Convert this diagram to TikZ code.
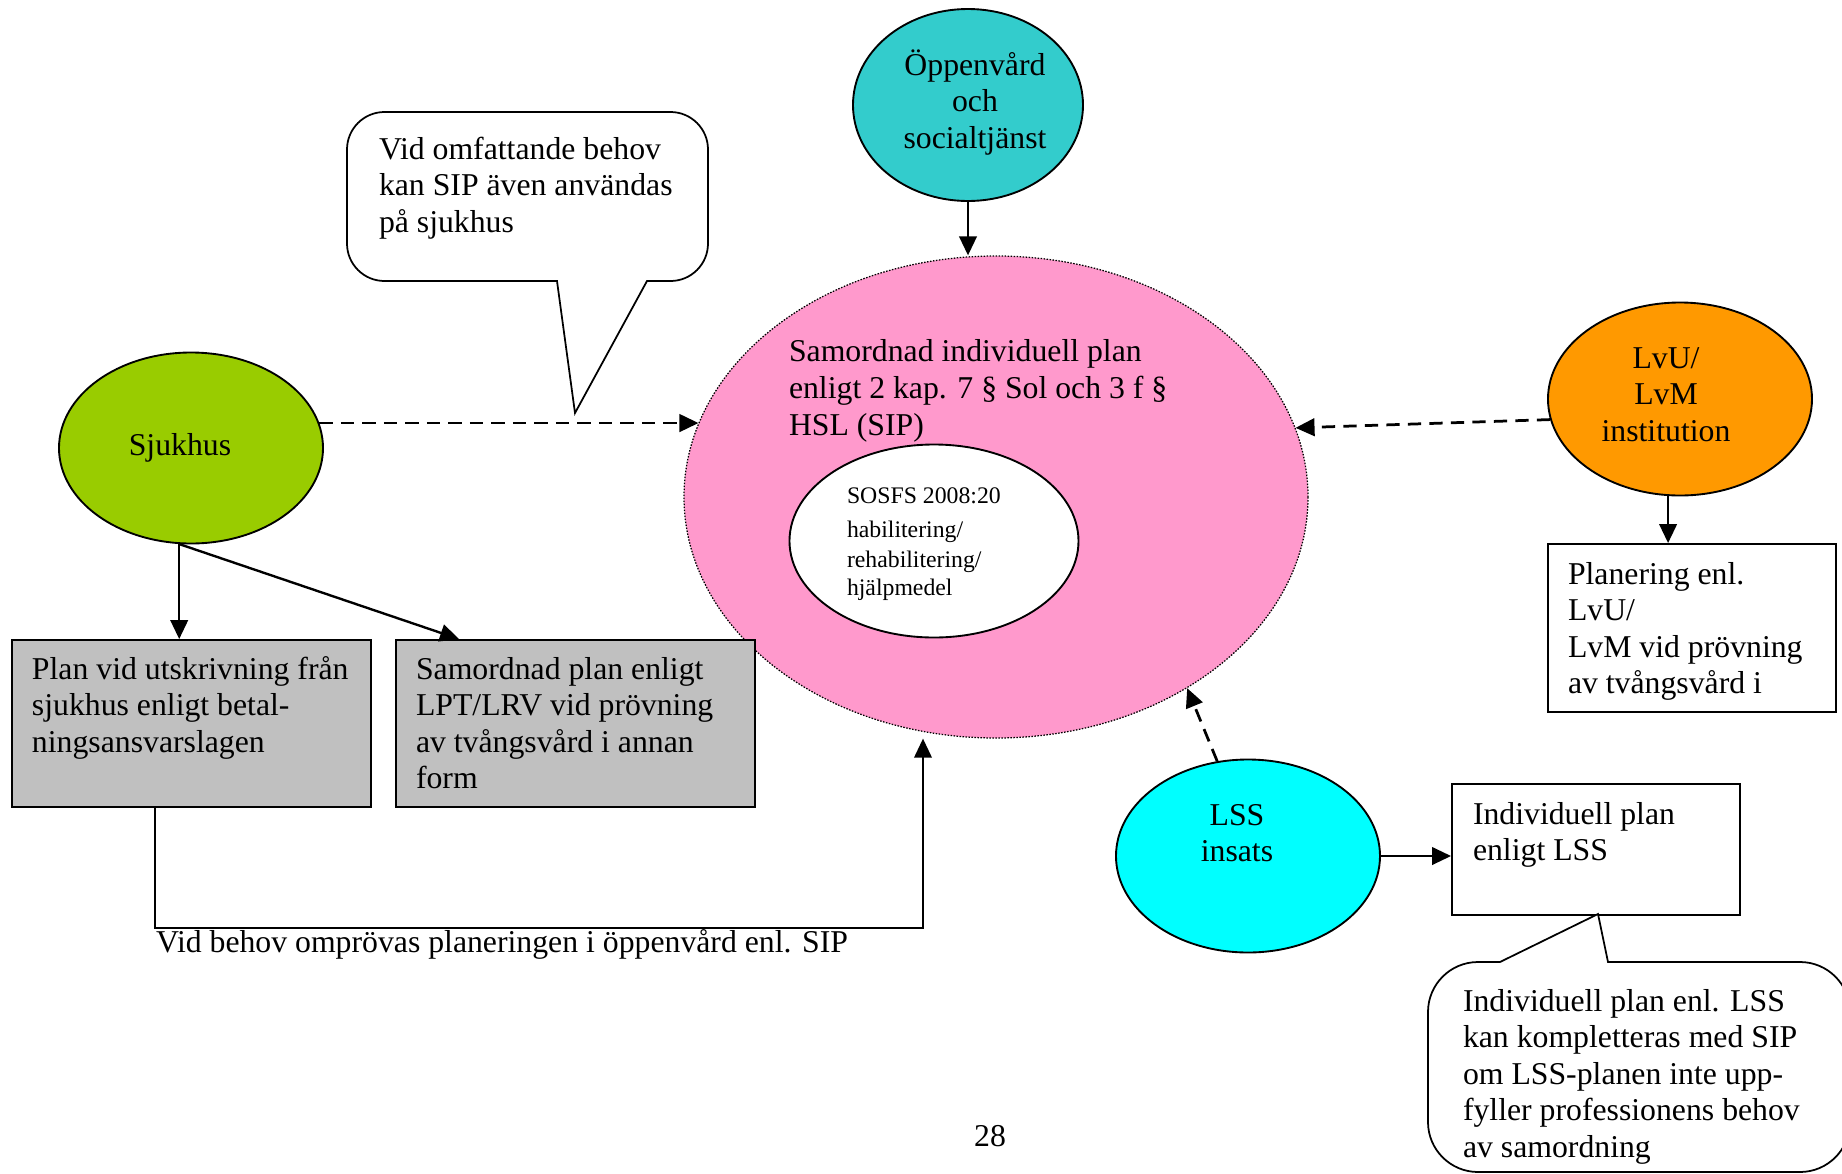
\documentclass[tikz,border=0pt]{standalone}
\usepackage{fontspec}
\setmainfont{Liberation Serif}
\usetikzlibrary{shapes.geometric,arrows.meta,calc}
\newcommand{\mainsz}{\fontsize{12.7}{14.6}\selectfont}
\newcommand{\sipsz}{\fontsize{12.7}{14.8}\selectfont}
\newcommand{\smallsz}{\fontsize{9.5}{11.2}\selectfont}
\definecolor{oppenC}{HTML}{33CCCC}
\definecolor{sipC}{HTML}{FF99CC}
\definecolor{sjukC}{HTML}{99CC00}
\definecolor{lvuC}{HTML}{FF9900}
\definecolor{lssC}{HTML}{00FFFF}
\definecolor{greyC}{HTML}{C0C0C0}
\tikzset{
  ell/.style={ellipse, draw=black, line width=0.75pt, inner sep=0pt},
  boxn/.style={rectangle, draw=black, line width=0.75pt, inner sep=0pt},
  txt/.style={inner sep=0pt, outer sep=0pt, anchor=base west, align=left, font=\mainsz},
  arr/.style={line width=0.95pt, -{Triangle[length=7.6pt,width=7pt]}},
  darr/.style={arr, line width=1.1pt, dash pattern=on 5.3pt off 3.3pt},
  callout/.style={line width=0.7pt, draw=black, fill=white},
}
\begin{document}
\begin{tikzpicture}[x=0.4pt,y=-0.4pt]
\useasboundingbox (0,0) rectangle (1842,1174);
\clip (0,0) rectangle (1842,1174);

% (text nodes are placed by the baseline of their last line)

% central ellipse
\node[ell, fill=sipC, line width=0.5pt, dash pattern=on 0.6pt off 0.6pt, minimum width=249.6pt, minimum height=192.8pt] (sip) at (996,497) {};
\node[txt, font=\sipsz] (sipT) at (789,435) {Samordnad individuell plan\\enligt 2 kap. 7 § Sol och 3 f §\\HSL (SIP)};
\node[ell, fill=white, minimum width=115.6pt, minimum height=77.2pt] (inner) at (934,541) {};
\node[txt, font=\smallsz] (innerT) at (847,595) {SOSFS 2008:20\\[2.4pt]habilitering/\\[0.8pt]rehabilitering/\\hjälpmedel};

% Öppenvård
\node[ell, fill=oppenC, minimum width=92pt, minimum height=76.8pt] (oppen) at (968,105) {};
\node[txt, anchor=base, align=center] (oppenT) at (975,148) {Öppenvård\\och\\socialtjänst};

% callout top left
\draw[callout, rounded corners=15pt] (557,281) -- (347,281) -- (347,112) -- (708,112) -- (708,281) [sharp corners] -- (647,281) -- (575,413) -- cycle;
\node[txt] (callT) at (379,232) {Vid omfattande behov\\kan SIP även användas\\på sjukhus};

% Sjukhus
\node[ell, fill=sjukC, minimum width=105.6pt, minimum height=76.4pt] (sjuk) at (191,448) {};
\node[txt, anchor=base] (sjukT) at (180,455) {Sjukhus};

% grey boxes
\node[boxn, fill=greyC, minimum width=143.6pt, minimum height=66.8pt] (box1) at (191.5,723.5) {};
\node[txt] (box1T) at (32,752) {Plan vid utskrivning från\\sjukhus enligt betal-\\ningsansvarslagen};
\node[boxn, fill=greyC, minimum width=143.6pt, minimum height=66.8pt] (box2) at (575.5,723.5) {};
\node[txt] (box2T) at (416,788.5) {Samordnad plan enligt\\LPT/LRV vid prövning\\av tvångsvård i annan\\form};

% LvU / LvM
\node[ell, fill=lvuC, minimum width=105.6pt, minimum height=77.2pt] (lvu) at (1680,399) {};
\node[txt, anchor=base, align=center] (lvuT) at (1666,441) {LvU/\\LvM\\institution};
\node[boxn, fill=white, minimum width=115.2pt, minimum height=67.2pt] (plan) at (1692,628) {};
\node[txt] (planT) at (1568,693.5) {Planering enl.\\LvU/\\LvM vid prövning\\av tvångsvård i};

% LSS
\node[ell, fill=lssC, minimum width=105.6pt, minimum height=77.2pt] (lss) at (1248,856) {};
\node[txt, anchor=base, align=center] (lssT) at (1237,861.5) {LSS\\insats};
\node[boxn, fill=white, minimum width=115.2pt, minimum height=52.4pt] (lssplan) at (1596,849.5) {};
\node[txt] (lssplanT) at (1473,860.5) {Individuell plan\\enligt LSS};

% callout bottom right
\draw[callout, rounded corners=20pt] (1500,962) -- (1428,962) -- (1428,1172) -- (1850,1172) -- (1850,962) [sharp corners] -- (1608,962) -- (1598,914) -- cycle;
\node[txt] (call2T) at (1463,1157) {Individuell plan enl. LSS\\kan kompletteras med SIP\\om LSS-planen inte upp-\\fyller professionens behov\\av samordning};

% bottom label and page number
\node[txt] (botT) at (156,952) {Vid behov omprövas planeringen i öppenvård enl. SIP};
\node[txt, anchor=base] (pg) at (990,1146) {28};

% connectors
\draw[arr] (oppen.south) -- (oppen.south |- sip.north);
\draw[darr] (sjuk.11) -- (sjuk.11 -| sip.166);
\draw[darr] (lvu.189) -- (sip.13);
\draw[arr] (lvu.263) -- (lvu.263 |- plan.north);
\draw[darr] (lss.108) -- (sip.-45);
\draw[arr] (lss.east) -- (lss.east -| lssplan.west);
\draw[arr] (sjuk.263) -- (sjuk.263 |- box1.north);
\draw[arr] (sjuk.263) -- ($(box2.north west)+(64,0)$);
\coordinate (lowL) at (155,928);
\coordinate (lowR) at (923,928);
\draw[arr, line width=0.8pt] (box1.south -| lowL) -- (lowL) -- (lowR) -- (lowR |- sip.south);
\end{tikzpicture}
\end{document}
